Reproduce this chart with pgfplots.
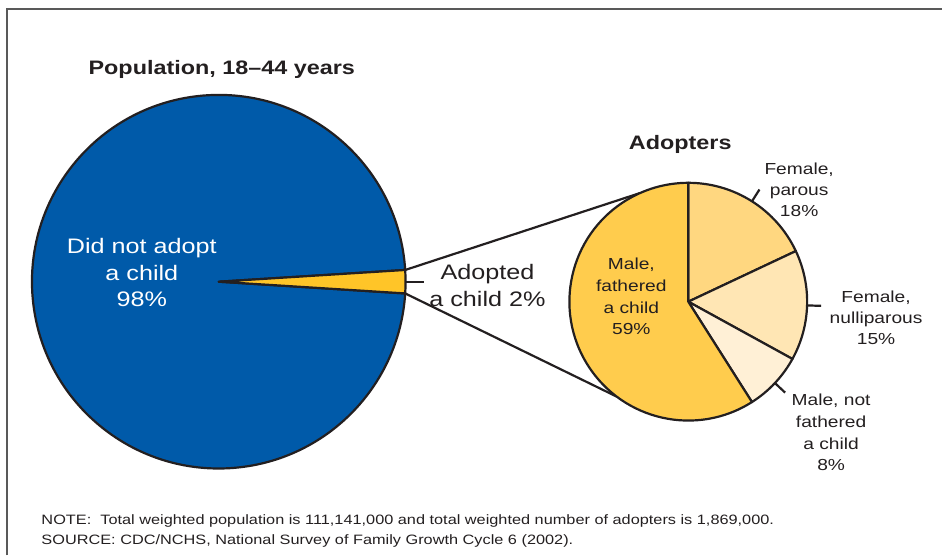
\documentclass[border=0pt]{standalone}
\usepackage{pgfplots}
\pgfplotsset{compat=1.18}
\usepackage{pgfplotstable}
\usepackage{fontspec}
\setmainfont{Liberation Sans}[FakeStretch=1.2]

\definecolor{popblue}{RGB}{0,90,169}
\definecolor{adoptyellow}{RGB}{255,197,40}
\definecolor{malefath}{RGB}{255,204,77}
\definecolor{femparous}{RGB}{255,215,128}
\definecolor{femnulli}{RGB}{255,230,180}
\definecolor{malenot}{RGB}{255,240,214}
\definecolor{txt}{RGB}{35,31,32}

% population 18-44 years, percent
\pgfplotstableread{
share color tick
98 popblue 0
2 adoptyellow 1
}\poptable

% adopters, percent (clockwise from 12 o'clock)
\pgfplotstableread{
share color tick
18 femparous 1
15 femnulli 1
8 malenot 1
59 malefath 0
}\adopttable

% #1 table, #2 cx, #3 cy, #4 radius, #5 start angle, #6 direction (1 ccw, -1 cw), #7 tick length
\newcommand{\drawpie}[7]{%
  \pgfplotstablegetrowsof{#1}%
  \pgfmathtruncatemacro\nrows{\pgfplotsretval-1}%
  \xdef\pieang{#5}%
  \foreach \i in {0,...,\nrows}{%
    \pgfplotstablegetelem{\i}{share}\of{#1}\let\sh\pgfplotsretval
    \pgfplotstablegetelem{\i}{color}\of{#1}\let\col\pgfplotsretval
    \pgfplotstablegetelem{\i}{tick}\of{#1}\let\tk\pgfplotsretval
    \pgfmathsetmacro\angend{\pieang+(#6)*3.6*\sh}%
    \pgfmathsetmacro\angmid{\pieang+(#6)*1.8*\sh}%
    \fill[\col,draw=txt,line width=2.2pt,line join=round]
      (axis cs:#2,#3) -- ++(\pieang:#4pt)
      arc[start angle=\pieang,end angle=\angend,radius=#4pt] -- cycle;
    \ifnum\tk=1
      \draw[txt,line width=2.2pt] (axis cs:#2,#3) ++(\angmid:#4pt) -- ++(\angmid:#7pt);
    \fi
    \xdef\pieang{\angend}%
  }%
}

\begin{document}
\begin{tikzpicture}
\begin{axis}[
  width=943pt, height=556pt,
  scale only axis,
  xmin=0, xmax=943, ymin=0, ymax=556,
  hide axis,
  clip=false,
]
\pgfplotsextra{
  \path (axis cs:0,0) (axis cs:943,556);
  % frame
  \draw[black!65,line width=2pt] (axis cs:7,0) -- (axis cs:7,547) -- (axis cs:943,547);
  % connectors from the 2% slice to the adopters pie
  \path (axis cs:219,274) ++(3.6:187pt) coordinate (p1);
  \path (axis cs:219,274) ++(-3.6:187pt) coordinate (p2);
  \path (axis cs:689,254) ++(114:119pt) coordinate (q1);
  \path (axis cs:689,254) ++(233:119pt) coordinate (q2);
  \draw[txt,line width=2.2pt] (p1) -- (q1);
  \draw[txt,line width=2.2pt] (p2) -- (q2);
  \drawpie{\poptable}{219}{274}{187}{3.6}{1}{18}
  \drawpie{\adopttable}{689}{254}{119}{90}{-1}{14}
}
\node[font=\bfseries\fontsize{19.5}{23}\selectfont,text=txt,anchor=base] at (axis cs:222,481) {Population, 18--44 years};
\node[font=\bfseries\fontsize{19.5}{23}\selectfont,text=txt,anchor=base] at (axis cs:681,406) {Adopters};
\node[font=\fontsize{21}{26.5}\selectfont,text=white,align=center] at (axis cs:142,283) {Did not adopt\\a child\\98\%};
\node[font=\fontsize{21}{26.5}\selectfont,text=txt,align=center] at (axis cs:488,270) {Adopted\\a child 2\%};
\node[font=\fontsize{16}{21.7}\selectfont,text=txt,align=center] at (axis cs:632,259) {Male,\\fathered\\a child\\59\%};
\node[font=\fontsize{16}{21}\selectfont,text=txt,align=center] at (axis cs:800,366) {Female,\\parous\\18\%};
\node[font=\fontsize{16}{21}\selectfont,text=txt,align=center] at (axis cs:877,238) {Female,\\nulliparous\\15\%};
\node[font=\fontsize{16}{21.7}\selectfont,text=txt,align=center] at (axis cs:832,123) {Male, not\\fathered\\a child\\8\%};
\node[font=\fontsize{13.6}{20}\selectfont,text=txt,align=left,anchor=north west] at (axis cs:38,44) {NOTE:\ \ Total weighted population is 111,141,000 and total weighted number of adopters is 1,869,000.\\SOURCE: CDC/NCHS, National Survey of Family Growth Cycle 6 (2002).};
\end{axis}
\end{tikzpicture}
\end{document}
